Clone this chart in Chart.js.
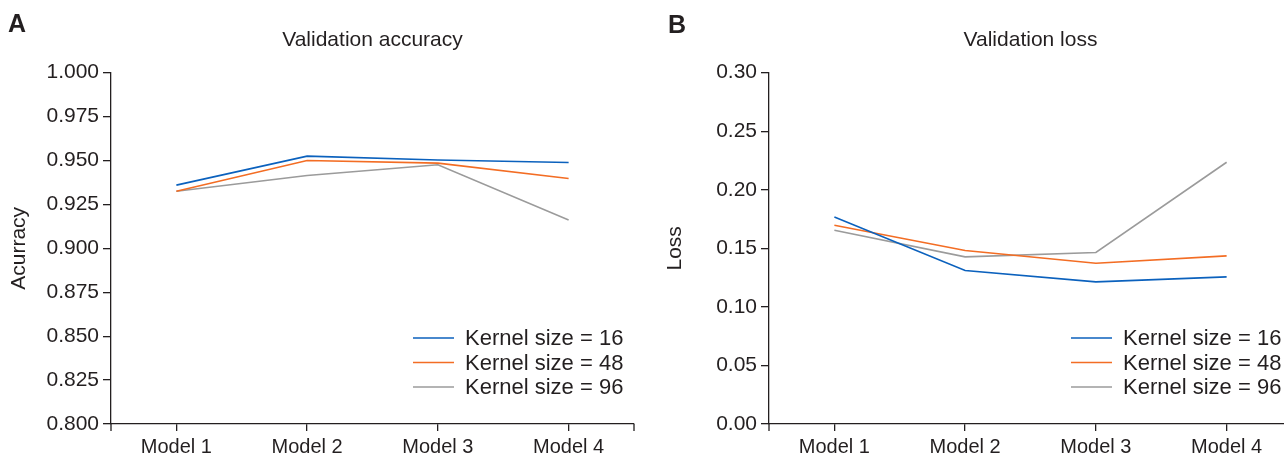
<!DOCTYPE html>
<html>
<head>
<meta charset="utf-8">
<script src="https://cdn.jsdelivr.net/npm/chart.js@4/dist/chart.umd.min.js"></script>
<style>
  html, body { margin: 0; padding: 0; background: #fff; width: 1284px; height: 456px; overflow: hidden; }
  #wrap { position: relative; width: 1284px; height: 456px; overflow: hidden; }
  canvas { position: absolute; top: 0; }
  #cA { left: 0; }
  #cB { left: 642px; }
  .panel { position: absolute; font-family: "Liberation Sans", Arial, sans-serif; font-weight: bold; font-size: 25px; color: #231f20; line-height: 1; }
</style>
</head>
<body>
<div id="wrap">
  <canvas id="cA" width="642" height="456"></canvas>
  <canvas id="cB" width="652" height="456"></canvas>
  <div class="panel" style="left:8px; top:11px;">A</div>
  <div class="panel" style="left:668px; top:12px;">B</div>
</div>
<script>
// ---- data ----
const categories = ["Model 1", "Model 2", "Model 3", "Model 4"];
const seriesLabels = ["Kernel size = 16", "Kernel size = 48", "Kernel size = 96"];

const accK16 = [0.936, 0.9525, 0.9503, 0.9489];
const accK48 = [0.9325, 0.9500, 0.9485, 0.9398];
const accK96 = [0.9325, 0.9415, 0.9476, 0.9162];

const lossK16 = [0.1768, 0.1311, 0.1214, 0.1256];
const lossK48 = [0.1698, 0.1482, 0.1373, 0.1436];
const lossK96 = [0.1655, 0.1427, 0.1465, 0.2235];

const accTicks = [0.800, 0.825, 0.850, 0.875, 0.900, 0.925, 0.950, 0.975, 1.000];
const lossTicks = [0.00, 0.05, 0.10, 0.15, 0.20, 0.25, 0.30];

// ---- style ----
const colors = ["#0b61bd", "#f36d24", "#9b9b9b"];
const ink = "#231f20";
const FONT = "'Liberation Sans', Arial, Helvetica, sans-serif";

const endTicks = {
  id: 'endTicks',
  afterDraw(chart) {
    const {ctx, chartArea} = chart;
    ctx.save();
    ctx.strokeStyle = ink;
    ctx.lineWidth = 1.3;
    ctx.beginPath();
    [chartArea.left, chartArea.right].forEach(x => {
      ctx.moveTo(x, chartArea.bottom);
      ctx.lineTo(x, chartArea.bottom + 7);
    });
    ctx.stroke();
    ctx.restore();
  }
};

const innerLegend = {
  id: 'innerLegend',
  afterDraw(chart) {
    const {ctx, chartArea} = chart;
    const o = chart.options.plugins.innerLegend;
    ctx.save();
    ctx.font = "22px " + FONT;
    ctx.textBaseline = 'middle';
    ctx.textAlign = 'left';
    chart.data.datasets.forEach((ds, i) => {
      const y = chartArea.bottom - 86 + i * 24.5;
      const x0 = chartArea.right - o.fromRight;
      ctx.strokeStyle = ds.borderColor;
      ctx.lineWidth = 1.6;
      ctx.beginPath();
      ctx.moveTo(x0, y);
      ctx.lineTo(x0 + 41, y);
      ctx.stroke();
      ctx.fillStyle = ink;
      ctx.fillText(ds.label, x0 + 52, y + 1);
    });
    ctx.restore();
  }
};

function makeChart(id, title, yTitle, series, ticksArr, min, max, decimals, yWidth, yTitlePad, padRight, legendFromRight) {
  return new Chart(document.getElementById(id), {
    type: 'line',
    data: {
      labels: categories,
      datasets: series.map((vals, i) => ({
        label: seriesLabels[i],
        data: vals,
        borderColor: colors[i],
        backgroundColor: colors[i],
        borderWidth: 1.6,
        pointRadius: 0,
        tension: 0,
        fill: false
      }))
    },
    options: {
      responsive: false,
      animation: false,
      devicePixelRatio: 1,
      layout: { padding: { top: 0, right: padRight, bottom: 0, left: 0 } },
      plugins: {
        legend: { display: false },
        tooltip: { enabled: false },
        title: {
          display: true,
          text: title,
          fullSize: false,
          color: ink,
          font: { family: FONT, size: 21, weight: 'normal' },
          padding: { top: 28, bottom: 19.5 }
        },
        innerLegend: { fromRight: legendFromRight }
      },
      scales: {
        x: {
          type: 'category',
          offset: true,
          grid: { display: true, drawOnChartArea: false, drawTicks: true, tickLength: 7, offset: false, color: ink, lineWidth: 1.3 },
          border: { display: true, color: ink, width: 1.3 },
          ticks: { color: ink, font: { family: FONT, size: 20 }, padding: 4, maxRotation: 0, autoSkip: false },
          afterFit(scale) { scale.height = 32; }
        },
        y: {
          type: 'linear',
          min: min,
          max: max,
          afterBuildTicks(scale) { scale.ticks = ticksArr.map(v => ({ value: v })); },
          grid: { display: true, drawOnChartArea: false, drawTicks: true, tickLength: 8, color: ink, lineWidth: 1.3 },
          border: { display: true, color: ink, width: 1.3 },
          ticks: {
            color: ink,
            font: { family: FONT, size: 21 },
            padding: 4,
            callback: v => Number(v).toFixed(decimals)
          },
          title: {
            display: true,
            text: yTitle,
            color: ink,
            font: { family: FONT, size: 21 },
            padding: { top: yTitlePad, bottom: 0 }
          },
          afterFit(scale) { scale.width = yWidth; }
        }
      }
    },
    plugins: [endTicks, innerLegend]
  });
}

makeChart('cA', 'Validation accuracy', 'Acurracy', [accK16, accK48, accK96], accTicks, 0.8, 1.0, 3, 111, 7, 8, 221);
makeChart('cB', 'Validation loss', 'Loss', [lossK16, lossK48, lossK96], lossTicks, 0.0, 0.3, 2, 127, 21, 2, 221);
</script>
</body>
</html>
